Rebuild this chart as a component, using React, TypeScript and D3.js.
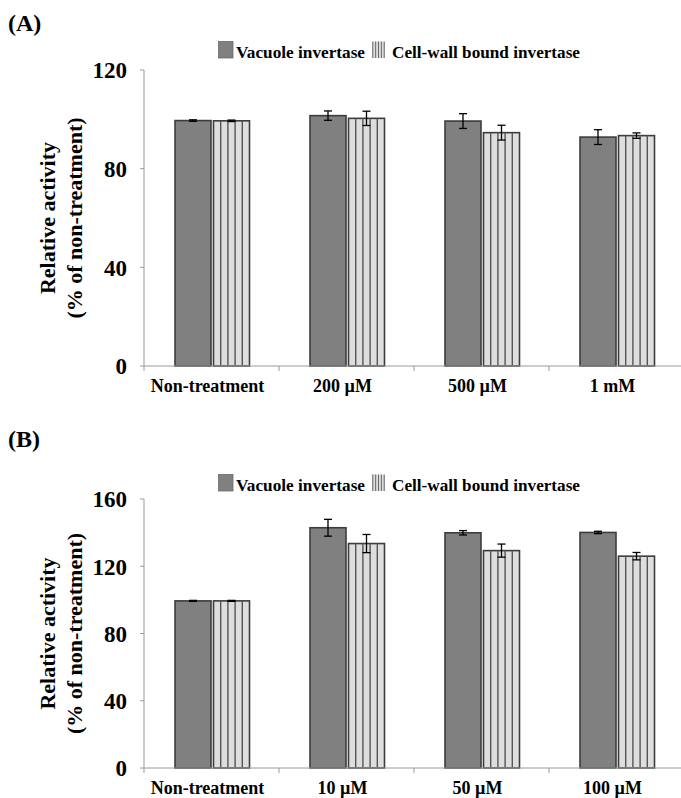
import React from 'react';
import * as d3 from 'd3';

// panel A: invertase activity vs concentration 1
const categoriesA = ['Non-treatment', '200 µM', '500 µM', '1 mM'];
const vacuoleA = [99.5, 101.5, 99.3, 92.8];
const vacuoleErrA = [0.3, 1.9, 3.0, 3.0];
const cellWallA = [99.4, 100.4, 94.6, 93.4];
const cellWallErrA = [0.3, 2.9, 3.0, 1.1];
const ticksA = [0, 40, 80, 120];

// panel B
const categoriesB = ['Non-treatment', '10 µM', '50 µM', '100 µM'];
const vacuoleB = [99.4, 142.9, 139.9, 140.1];
const vacuoleErrB = [0.3, 5.0, 1.3, 0.7];
const cellWallB = [99.4, 133.5, 129.3, 126.0];
const cellWallErrB = [0.3, 5.4, 3.9, 2.2];
const ticksB = [0, 40, 80, 120, 160];

const legendLabels = ['Vacuole invertase', 'Cell-wall bound invertase'];

const FONT = '"Liberation Serif", "Times New Roman", serif';
const VAC_FILL = '#808080';
const CELL_FILL = '#dedede';
const EDGE = '#3c3c3c';
const AXIS = '#9a9a9a';

type PanelProps = {
  tag: string;
  tagY: number;
  legendY: number;
  yTop: number;
  yBottom: number;
  categories: string[];
  vacuole: number[];
  vacuoleErr: number[];
  cellWall: number[];
  cellWallErr: number[];
  ticks: number[];
};

function Panel(p: PanelProps) {
  const x = d3.scaleBand<string>().domain(p.categories).range([144, 684]);
  const yMax = p.ticks[p.ticks.length - 1];
  const y = d3.scaleLinear().domain([0, yMax]).range([p.yBottom, p.yTop]);
  const bw = 36;

  const bars = p.categories.map((c, i) => {
    const mid = (x(c) as number) + x.bandwidth() / 2;
    return { c, mid, i };
  });

  const errBar = (cx: number, v: number, e: number, key: string) => (
    <g key={key} stroke="#000" strokeWidth={1.3}>
      <line x1={cx} x2={cx} y1={y(v + e)} y2={y(v - e)} />
      <line x1={cx - 4} x2={cx + 4} y1={y(v + e)} y2={y(v + e)} />
      <line x1={cx - 4} x2={cx + 4} y1={y(v - e)} y2={y(v - e)} />
    </g>
  );

  const ylabX = 55;
  const ylabY = (p.yTop + p.yBottom) / 2;

  return (
    <g>
      <text x={8} y={p.tagY} fontFamily={FONT} fontWeight="bold" fontSize={24}>{p.tag}</text>

      {/* legend */}
      <rect x={218.5} y={p.legendY - 16.5} width={14.5} height={16.5} fill={VAC_FILL} stroke="#6a6a6a" strokeWidth={0.8} />
      <text x={236} y={p.legendY} fontFamily={FONT} fontWeight="bold" fontSize={17.5} textLength={129} lengthAdjust="spacingAndGlyphs">{legendLabels[0]}</text>
      <rect x={372} y={p.legendY - 16.5} width={13} height={16.5} fill={CELL_FILL} />
      {d3.range(5).map(k => (
        <line key={k} x1={372.8 + k * 2.85} x2={372.8 + k * 2.85} y1={p.legendY - 16.5} y2={p.legendY} stroke="#666" strokeWidth={1} />
      ))}
      <text x={392} y={p.legendY} fontFamily={FONT} fontWeight="bold" fontSize={17.5} textLength={188} lengthAdjust="spacingAndGlyphs">{legendLabels[1]}</text>

      {/* y axis */}
      <line x1={144} x2={144} y1={y(yMax)} y2={y(0)} stroke={AXIS} strokeWidth={1} />
      {p.ticks.map(t => (
        <g key={t}>
          <line x1={140} x2={144} y1={y(t)} y2={y(t)} stroke={AXIS} />
          <text x={127} y={y(t)} dy="0.36em" textAnchor="end" fontFamily={FONT} fontWeight="bold" fontSize={23}>{t}</text>
        </g>
      ))}
      <g transform={`translate(${ylabX},${ylabY}) rotate(-90)`} fontFamily={FONT} fontWeight="bold" fontSize={22} textAnchor="middle">
        <text x={0} y={0}>Relative activity</text>
        <text x={0} y={27}>(% of non-treatment)</text>
      </g>

      {/* bars */}
      {bars.map(({ c, mid, i }) => {
        const vx = mid - 36.5;
        const cx = mid + 2;
        const vTop = y(p.vacuole[i]);
        const cTop = y(p.cellWall[i]);
        return (
          <g key={c}>
            <rect x={vx} y={vTop} width={bw} height={y(0) - vTop} fill={VAC_FILL} stroke={EDGE} strokeWidth={1.6} />
            <rect x={cx} y={cTop} width={bw} height={y(0) - cTop} fill={CELL_FILL} stroke={EDGE} strokeWidth={1.6} />
            {d3.range(1, 5).map(k => (
              <line key={k} x1={cx + (bw * k) / 5} x2={cx + (bw * k) / 5} y1={cTop} y2={y(0)} stroke="#555" strokeWidth={1.4} />
            ))}
            {errBar(vx + bw / 2, p.vacuole[i], p.vacuoleErr[i], 'ev')}
            {errBar(cx + bw / 2, p.cellWall[i], p.cellWallErr[i], 'ec')}
          </g>
        );
      })}

      {/* x axis */}
      <line x1={144} x2={684} y1={y(0)} y2={y(0)} stroke={AXIS} strokeWidth={1} />
      {p.categories.map(c => (
        <line key={c} x1={x(c) as number} x2={x(c) as number} y1={y(0)} y2={y(0) + 5} stroke={AXIS} />
      ))}
      {bars.map(({ c, mid }) => (
        <text key={c} x={mid - 4} y={y(0) + 26} textAnchor="middle" fontFamily={FONT} fontWeight="bold" fontSize={18}>{c}</text>
      ))}
    </g>
  );
}

export default function App() {
  return (
    <svg width={681} height={798} style={{ position: 'absolute', left: 0, top: 0, background: '#fff' }}>
      <rect width={681} height={798} fill="#fff" />
      <Panel tag="(A)" tagY={31} legendY={58} yTop={70} yBottom={366}
        categories={categoriesA} vacuole={vacuoleA} vacuoleErr={vacuoleErrA}
        cellWall={cellWallA} cellWallErr={cellWallErrA} ticks={ticksA} />
      <Panel tag="(B)" tagY={447} legendY={491} yTop={499} yBottom={768}
        categories={categoriesB} vacuole={vacuoleB} vacuoleErr={vacuoleErrB}
        cellWall={cellWallB} cellWallErr={cellWallErrB} ticks={ticksB} />
    </svg>
  );
}
